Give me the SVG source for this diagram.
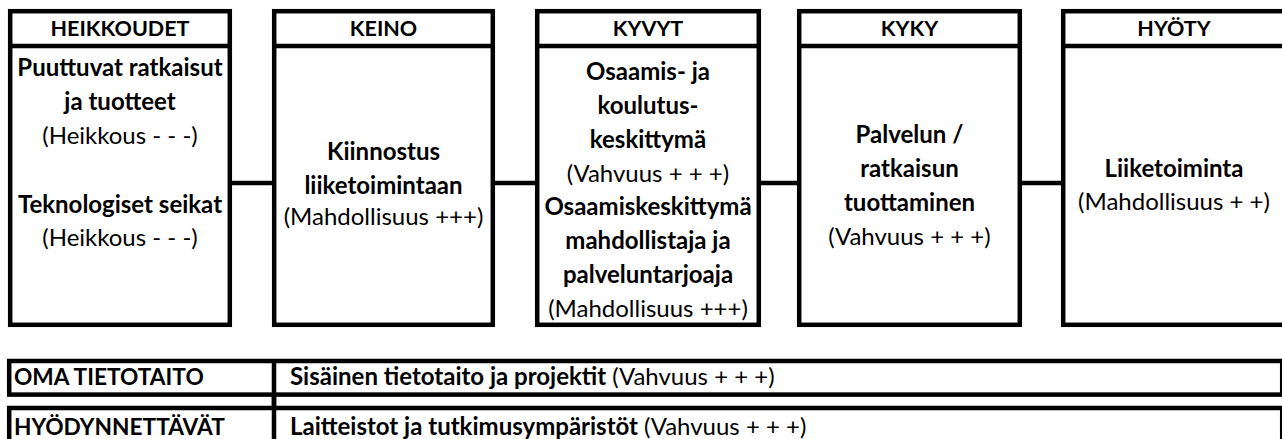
<svg xmlns="http://www.w3.org/2000/svg" width="1282" height="439" viewBox="0 0 1282 439">
<style>
.box{fill:#fff;stroke:#000;stroke-width:4.5}
.sep{stroke:#000;stroke-width:4.5}
.con{stroke:#000;stroke-width:4.5;fill:none}
text{font-family:Lato,"Liberation Sans",sans-serif;font-size:24px;fill:#000}
.c{text-anchor:middle}
.b{font-weight:bold}
.h{font-size:21.5px}
.l{font-size:22.7px}
</style>
<rect width="1282" height="439" fill="#fff"/>
<g id="connectors">
<line class="con" x1="232" y1="183" x2="274" y2="183"/>
<line class="con" x1="494" y1="183" x2="537" y2="183"/>
<line class="con" x1="759" y1="183" x2="799" y2="183"/>
<line class="con" x1="1020" y1="183" x2="1063" y2="183"/>
</g>
<g id="heikkoudet">
<rect class="box" x="10.2" y="11.2" width="219.6" height="313.6"/>
<line class="sep" x1="10" y1="46" x2="230" y2="46"/>
<text class="c b h" x="120" y="36">HEIKKOUDET</text>
<text class="c b" x="120" y="76">Puuttuvat ratkaisut</text>
<text class="c b" x="120" y="110">ja tuotteet</text>
<text class="c" x="120" y="144">(Heikkous - - -)</text>
<text class="c b" x="120" y="213">Teknologiset seikat</text>
<text class="c" x="120" y="246">(Heikkous - - -)</text>
</g>
<g id="keino">
<rect class="box" x="274.2" y="11.2" width="218.6" height="313.6"/>
<line class="sep" x1="274" y1="46" x2="493" y2="46"/>
<text class="c b h" x="383.5" y="36">KEINO</text>
<text class="c b" x="383.5" y="160">Kiinnostus</text>
<text class="c b" x="383.5" y="194">liiketoimintaan</text>
<text class="c" x="383.5" y="225">(Mahdollisuus +++)</text>
</g>
<g id="kyvyt">
<rect class="box" x="537.2" y="11.2" width="221.6" height="313.6"/>
<line class="sep" x1="537" y1="46" x2="759" y2="46"/>
<text class="c b h" x="648" y="36">KYVYT</text>
<text class="c b" x="648" y="80">Osaamis- ja</text>
<text class="c b" x="648" y="114">koulutus-</text>
<text class="c b" x="648" y="148">keskittymä</text>
<text class="c" x="648" y="182">(Vahvuus + + +)</text>
<text class="c b" x="648" y="215">Osaamiskeskittymä</text>
<text class="c b" x="648" y="249">mahdollistaja ja</text>
<text class="c b" x="648" y="283">palveluntarjoaja</text>
<text class="c" x="648" y="317">(Mahdollisuus +++)</text>
</g>
<g id="kyky">
<rect class="box" x="799.2" y="11.2" width="220.6" height="313.6"/>
<line class="sep" x1="799" y1="46" x2="1020" y2="46"/>
<text class="c b h" x="909.5" y="36">KYKY</text>
<text class="c b" x="909.5" y="143">Palvelun /</text>
<text class="c b" x="909.5" y="177">ratkaisun</text>
<text class="c b" x="909.5" y="211">tuottaminen</text>
<text class="c" x="909.5" y="245">(Vahvuus + + +)</text>
</g>
<g id="hyoty">
<rect class="box" x="1063.2" y="11.2" width="221.6" height="313.6"/>
<line class="sep" x1="1063" y1="46" x2="1285" y2="46"/>
<text class="c b h" x="1174" y="36">HYÖTY</text>
<text class="c b" x="1174" y="177">Liiketoiminta</text>
<text class="c" x="1174" y="210">(Mahdollisuus + +)</text>
</g>
<g id="oma-tietotaito">
<rect class="box" x="9.2" y="361" width="1273" height="33.6"/>
<line class="sep" x1="274" y1="361" x2="274" y2="439"/>
<text class="b l" x="14" y="385">OMA TIETOTAITO</text>
<text x="290" y="385"><tspan class="b">Sisäinen tietotaito ja projektit</tspan> (Vahvuus + + +)</text>
</g>
<g id="hyodynnettavat">
<rect class="box" x="9.2" y="408" width="1273" height="40"/>
<line class="sep" x1="274" y1="394" x2="274" y2="439"/>
<text class="b l" x="14" y="435">HYÖDYNNETTÄVÄT</text>
<text x="290" y="435"><tspan class="b">Laitteistot ja tutkimusympäristöt</tspan> (Vahvuus + + +)</text>
</g>
</svg>
